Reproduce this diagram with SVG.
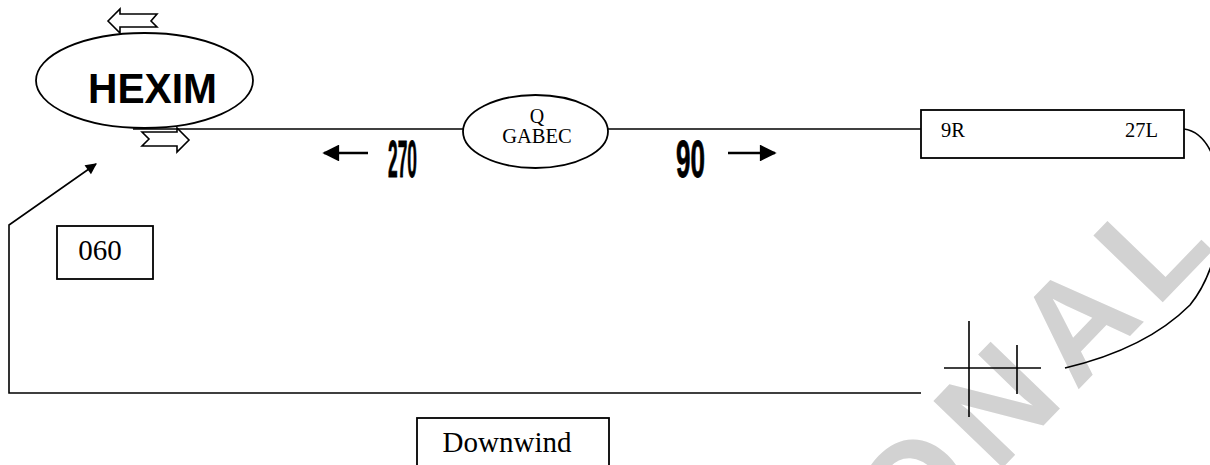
<svg xmlns="http://www.w3.org/2000/svg" width="1210" height="465" viewBox="0 0 1210 465">
  <style>
    .ln { fill: none; stroke: #000; stroke-width: 1.6; }
    .shape { fill: #fff; stroke: #000; stroke-width: 1.8; }
    .blk { fill: #fff; stroke: #000; stroke-width: 1.6; stroke-linejoin: miter; }
    .tm { font-family: "Liberation Serif", "Times New Roman", serif; fill: #000; }
    .cond { font-family: "Liberation Sans", Arial, sans-serif; font-weight: bold; fill: #000; }
    .num { stroke: #000; stroke-width: 0.8; }
    .wm { font-family: "Liberation Sans", Arial, sans-serif; font-weight: bold; fill: #d2d2d2; }
  </style>
  <defs>
    <marker id="ah" viewBox="0 0 10 10" refX="9" refY="5" markerWidth="8" markerHeight="7" markerUnits="strokeWidth" orient="auto">
      <path d="M0,0 L10,5 L0,10 Z" fill="#000"/>
    </marker>
  </defs>
  <rect width="1210" height="465" fill="#fff"/>

  <!-- watermark -->
  <text class="wm" font-size="140" letter-spacing="14" transform="translate(911,563) rotate(-46)">ONAL</text>

  <g id="connectors">
    <line class="ln" x1="133" y1="129" x2="464" y2="129"/>
    <line class="ln" x1="608" y1="129" x2="921" y2="129"/>
    <path class="ln" d="M1184,129 C1230,135 1235,250 1190,305 C1160,335 1120,355 1065,368"/>
    <path class="ln" d="M921,393 L9,393 L9,225 L96,164" marker-end="url(#ah)"/>
    <line x1="368" y1="153" x2="324" y2="153" stroke="#000" stroke-width="2.4" marker-end="url(#ah)"/>
    <line x1="728" y1="153" x2="775" y2="153" stroke="#000" stroke-width="2.4" marker-end="url(#ah)"/>
    <!-- crosshair -->
    <line class="ln" x1="944" y1="368" x2="1041" y2="368"/>
    <line class="ln" x1="969" y1="321" x2="969" y2="417"/>
    <line class="ln" x1="1017" y1="345" x2="1017" y2="394"/>
    <!-- block arrows -->
    <polygon class="blk" points="108,21 120,9 120,14 157,14 151,21 157,27 120,27 120,33"/>
    <polygon class="blk" points="142,132 177,132 177,128 189,140 177,152 177,146 142,146 149,139"/>
  </g>

  <g id="hexim">
    <ellipse class="shape" cx="144.5" cy="80.5" rx="108.5" ry="47.5"/>
    <text class="cond" x="152.5" y="103" font-size="43" text-anchor="middle" textLength="129" lengthAdjust="spacingAndGlyphs">HEXIM</text>
  </g>

  <g id="gabec">
    <ellipse class="shape" cx="535.5" cy="131.5" rx="72.5" ry="36.5"/>
    <text class="tm" x="537" y="123" font-size="20" text-anchor="middle">Q</text>
    <text class="tm" x="537" y="143" font-size="20.5" text-anchor="middle">GABEC</text>
  </g>

  <g id="runway">
    <rect class="shape" x="921" y="110" width="263" height="48"/>
    <text class="tm" x="941" y="137" font-size="20.5">9R</text>
    <text class="tm" x="1158" y="137" font-size="20.5" text-anchor="end">27L</text>
  </g>

  <g id="label270">
    <text class="cond num" x="388" y="177" font-size="52" textLength="29" lengthAdjust="spacingAndGlyphs">270</text>
  </g>
  <g id="label90">
    <text class="cond num" x="676" y="177" font-size="52" textLength="29" lengthAdjust="spacingAndGlyphs">90</text>
  </g>

  <g id="box060">
    <rect class="shape" x="57" y="226" width="96" height="53"/>
    <text class="tm" x="100" y="260" font-size="29" text-anchor="middle">060</text>
  </g>

  <g id="downwind">
    <rect class="shape" x="417" y="418" width="192" height="60"/>
    <text class="tm" x="507" y="452" font-size="29" text-anchor="middle">Downwind</text>
  </g>
</svg>
